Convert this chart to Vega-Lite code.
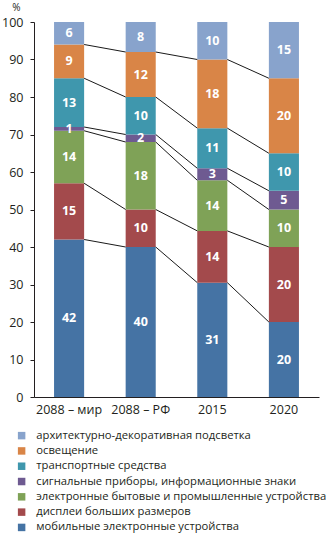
{
  "$schema": "https://vega.github.io/schema/vega-lite/v6.json",
  "width": 285,
  "height": 375,
  "autosize": "none",
  "padding": {"left": 34, "top": 22, "right": 16, "bottom": 142},
  "config": {"view": {"stroke": null}, "font": "Open Sans"},
  "data": {
    "values": [
      {"cat": "2088 – мир", "catIdx": 1, "series": "мобильные электронные устройства", "order": 1, "value": 42, "label": "42"},
      {"cat": "2088 – мир", "catIdx": 1, "series": "дисплеи больших размеров", "order": 2, "value": 15, "label": "15"},
      {"cat": "2088 – мир", "catIdx": 1, "series": "электронные бытовые и промышленные устройства", "order": 3, "value": 14, "label": "14"},
      {"cat": "2088 – мир", "catIdx": 1, "series": "сигнальные приборы, информационные знаки", "order": 4, "value": 1, "label": "1"},
      {"cat": "2088 – мир", "catIdx": 1, "series": "транспортные средства", "order": 5, "value": 13, "label": "13"},
      {"cat": "2088 – мир", "catIdx": 1, "series": "освещение", "order": 6, "value": 9, "label": "9"},
      {"cat": "2088 – мир", "catIdx": 1, "series": "архитектурно-декоративная подсветка", "order": 7, "value": 6, "label": "6"},
      {"cat": "2088 – РФ", "catIdx": 2, "series": "мобильные электронные устройства", "order": 1, "value": 40, "label": "40"},
      {"cat": "2088 – РФ", "catIdx": 2, "series": "дисплеи больших размеров", "order": 2, "value": 10, "label": "10"},
      {"cat": "2088 – РФ", "catIdx": 2, "series": "электронные бытовые и промышленные устройства", "order": 3, "value": 18, "label": "18"},
      {"cat": "2088 – РФ", "catIdx": 2, "series": "сигнальные приборы, информационные знаки", "order": 4, "value": 2, "label": "2"},
      {"cat": "2088 – РФ", "catIdx": 2, "series": "транспортные средства", "order": 5, "value": 10, "label": "10"},
      {"cat": "2088 – РФ", "catIdx": 2, "series": "освещение", "order": 6, "value": 12, "label": "12"},
      {"cat": "2088 – РФ", "catIdx": 2, "series": "архитектурно-декоративная подсветка", "order": 7, "value": 8, "label": "8"},
      {"cat": "2015", "catIdx": 3, "series": "мобильные электронные устройства", "order": 1, "value": 30.5, "label": "31"},
      {"cat": "2015", "catIdx": 3, "series": "дисплеи больших размеров", "order": 2, "value": 13.8, "label": "14"},
      {"cat": "2015", "catIdx": 3, "series": "электронные бытовые и промышленные устройства", "order": 3, "value": 13.5, "label": "14"},
      {"cat": "2015", "catIdx": 3, "series": "сигнальные приборы, информационные знаки", "order": 4, "value": 3.2, "label": "3"},
      {"cat": "2015", "catIdx": 3, "series": "транспортные средства", "order": 5, "value": 10.7, "label": "11"},
      {"cat": "2015", "catIdx": 3, "series": "освещение", "order": 6, "value": 18.3, "label": "18"},
      {"cat": "2015", "catIdx": 3, "series": "архитектурно-декоративная подсветка", "order": 7, "value": 10, "label": "10"},
      {"cat": "2020", "catIdx": 4, "series": "мобильные электронные устройства", "order": 1, "value": 20, "label": "20"},
      {"cat": "2020", "catIdx": 4, "series": "дисплеи больших размеров", "order": 2, "value": 20, "label": "20"},
      {"cat": "2020", "catIdx": 4, "series": "электронные бытовые и промышленные устройства", "order": 3, "value": 10, "label": "10"},
      {"cat": "2020", "catIdx": 4, "series": "сигнальные приборы, информационные знаки", "order": 4, "value": 5, "label": "5"},
      {"cat": "2020", "catIdx": 4, "series": "транспортные средства", "order": 5, "value": 10, "label": "10"},
      {"cat": "2020", "catIdx": 4, "series": "освещение", "order": 6, "value": 20, "label": "20"},
      {"cat": "2020", "catIdx": 4, "series": "архитектурно-декоративная подсветка", "order": 7, "value": 15, "label": "15"}
    ]
  },
  "transform": [
    {"stack": "value", "groupby": ["cat"], "sort": [{"field": "order"}], "as": ["y0", "y1"]},
    {"calculate": "(datum.y0 + datum.y1) / 2", "as": "mid"}
  ],
  "encoding": {
    "x": {
      "field": "cat", "type": "nominal",
      "scale": {"type": "band", "domain": ["2088 – мир", "2088 – РФ", "2015", "2020"], "paddingInner": 0.58, "paddingOuter": 0.28},
      "axis": {"title": null, "labelAngle": 0, "ticks": false, "domainColor": "#231f20", "labelColor": "#231f20", "labelFontSize": 12.5, "labelPadding": 6}
    }
  },
  "layer": [
    {
      "mark": {"type": "bar"},
      "encoding": {
        "y": {
          "field": "y0", "type": "quantitative",
          "scale": {"domain": [0, 100], "nice": false},
          "axis": {"values": [0, 10, 20, 30, 40, 50, 60, 70, 80, 90, 100], "labelOverlap": false, "grid": false, "title": "%", "titleAngle": 0, "titleX": -18, "titleY": -15, "titleAlign": "center", "titleBaseline": "middle", "titleFontWeight": "normal", "titleFontSize": 10, "titleColor": "#231f20", "labelFontSize": 12.5, "labelColor": "#231f20", "domainColor": "#231f20", "tickColor": "#231f20", "tickSize": 4, "labelPadding": 7}
        },
        "y2": {"field": "y1"},
        "color": {
          "field": "series", "type": "nominal",
          "scale": {
            "domain": ["архитектурно-декоративная подсветка", "освещение", "транспортные средства", "сигнальные приборы, информационные знаки", "электронные бытовые и промышленные устройства", "дисплеи больших размеров", "мобильные электронные устройства"],
            "range": ["#88a3cc", "#d98547", "#3f97ad", "#6e5a91", "#7fa257", "#a34a4c", "#4573a4"]
          },
          "legend": {"orient": "none", "legendX": -18, "legendY": 408, "title": null, "symbolType": "square", "symbolSize": 56, "symbolStrokeWidth": 0, "labelFontSize": 11.25, "labelLimit": 330, "labelColor": "#231f20", "labelOffset": 9, "rowPadding": 3.3, "padding": 0}
        }
      }
    },
    {
      "transform": [
        {"window": [{"op": "lead", "field": "y1", "as": "ny"}, {"op": "lead", "field": "cat", "as": "ncat"}], "groupby": ["series"], "sort": [{"field": "catIdx"}]},
        {"filter": "datum.ncat != null && datum.order < 7"}
      ],
      "mark": {"type": "rule", "color": "#1a1a1a", "strokeWidth": 1},
      "encoding": {
        "x": {"field": "cat", "type": "nominal", "bandPosition": 1},
        "x2": {"field": "ncat", "bandPosition": 0},
        "y": {"field": "y1", "type": "quantitative", "axis": {"values": [0, 10, 20, 30, 40, 50, 60, 70, 80, 90, 100], "labelOverlap": false, "grid": false, "title": "%", "titleAngle": 0, "titleX": -18, "titleY": -15, "titleAlign": "center", "titleBaseline": "middle", "titleFontWeight": "normal", "titleFontSize": 10, "titleColor": "#231f20", "labelFontSize": 12.5, "labelColor": "#231f20", "domainColor": "#231f20", "tickColor": "#231f20", "tickSize": 4, "labelPadding": 7}},
        "y2": {"field": "ny"}
      }
    },
    {
      "mark": {"type": "text", "color": "white", "fontWeight": "bold", "fontSize": 12.5, "baseline": "middle"},
      "encoding": {
        "y": {"field": "mid", "type": "quantitative", "axis": {"values": [0, 10, 20, 30, 40, 50, 60, 70, 80, 90, 100], "labelOverlap": false, "grid": false, "title": "%", "titleAngle": 0, "titleX": -18, "titleY": -15, "titleAlign": "center", "titleBaseline": "middle", "titleFontWeight": "normal", "titleFontSize": 10, "titleColor": "#231f20", "labelFontSize": 12.5, "labelColor": "#231f20", "domainColor": "#231f20", "tickColor": "#231f20", "tickSize": 4, "labelPadding": 7}},
        "text": {"field": "label"}
      }
    }
  ]
}
